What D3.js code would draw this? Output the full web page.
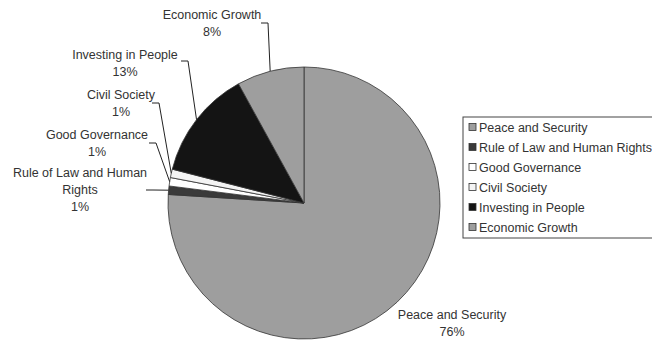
<!DOCTYPE html>
<html>
<head>
<meta charset="utf-8">
<script src="https://cdn.jsdelivr.net/npm/d3@7"></script>
<style>
  body { margin: 0; background: #fff; }
  text { font-family: "Liberation Sans", Arial, sans-serif; font-size: 12.5px; fill: #333; }
</style>
</head>
<body>
<div class="pieChart"></div>
<script>
//Width and height
var w = 652;
var h = 345;

//Data
var categories = ["Peace and Security", "Rule of Law and Human Rights", "Good Governance",
    "Civil Society", "Investing in People", "Economic Growth"];
var values = [76, 1, 1, 1, 13, 8];
var pctLabels = ["76%", "1%", "1%", "1%", "13%", "8%"];
var colors = ["#9e9e9e", "#3a3a3a", "#ffffff", "#f4f4f4", "#141414", "#9e9e9e"];

//Label placement (centre x, first line y, text lines, leader start)
var labelPos = [
    { x: 452, y: 319, lines: ["Peace and Security"], side: "none" },
    { x: 80, y: 177, lines: ["Rule of Law and Human", "Rights"], side: "right", lx: 146, ly: 190 },
    { x: 97, y: 139, lines: ["Good Governance"], side: "right", lx: 149, ly: 143 },
    { x: 121, y: 99, lines: ["Civil Society"], side: "right", lx: 152, ly: 103 },
    { x: 125, y: 59, lines: ["Investing in People"], side: "right", lx: 181, ly: 61 },
    { x: 212, y: 19, lines: ["Economic Growth"], side: "right", lx: 261, ly: 23 }
];

var cx = 304, cy = 203, r = 136;

var svg = d3.select(".pieChart")
    .append("svg")
    .attr("width", w)
    .attr("height", h);

var data = categories.map((c, i) => ({ name: c, value: values[i], pct: pctLabels[i], color: colors[i], pos: labelPos[i] }));

var pie = d3.pie().sort(null).value(d => d.value);
var arc = d3.arc().innerRadius(0).outerRadius(r);
var arcs = pie(data);

var g = svg.append("g").attr("transform", "translate(" + cx + "," + cy + ")");

g.selectAll("path")
    .data(arcs)
    .enter()
    .append("path")
    .attr("d", arc)
    .attr("fill", d => d.data.color)
    .attr("stroke", "#333")
    .attr("stroke-width", 0.8);

//Leader lines
arcs.forEach(d => {
    var p = d.data.pos;
    if (p.side === "none") return;
    var mid = (d.startAngle + d.endAngle) / 2;
    var ex = cx + r * Math.sin(mid);
    var ey = cy - r * Math.cos(mid);
    svg.append("polyline")
        .attr("points", [[p.lx, p.ly], [p.lx + 7, p.ly], [ex, ey]].map(q => q.join(",")).join(" "))
        .attr("fill", "none")
        .attr("stroke", "#222")
        .attr("stroke-width", 1);
});

//Labels
arcs.forEach(d => {
    var p = d.data.pos;
    var t = svg.append("text").attr("text-anchor", "middle");
    p.lines.concat([d.data.pct]).forEach((line, i) => {
        t.append("tspan").attr("x", p.x).attr("y", p.y + i * 17).text(line);
    });
});

//Legend
var legend = svg.append("g").attr("transform", "translate(463,117)");
legend.append("rect")
    .attr("x", 0).attr("y", 0)
    .attr("width", 200).attr("height", 121)
    .attr("fill", "#fff")
    .attr("stroke", "#444")
    .attr("stroke-width", 1);

var items = legend.selectAll("g.item")
    .data(data)
    .enter()
    .append("g")
    .attr("class", "item")
    .attr("transform", (d, i) => "translate(6," + (10 + i * 20) + ")");

items.append("rect")
    .attr("x", 0).attr("y", -3.5)
    .attr("width", 7).attr("height", 7)
    .attr("fill", d => d.color)
    .attr("stroke", "#333")
    .attr("stroke-width", 0.8);

items.append("text")
    .attr("x", 10)
    .attr("y", 4.5)
    .text(d => d.name);
</script>
</body>
</html>
